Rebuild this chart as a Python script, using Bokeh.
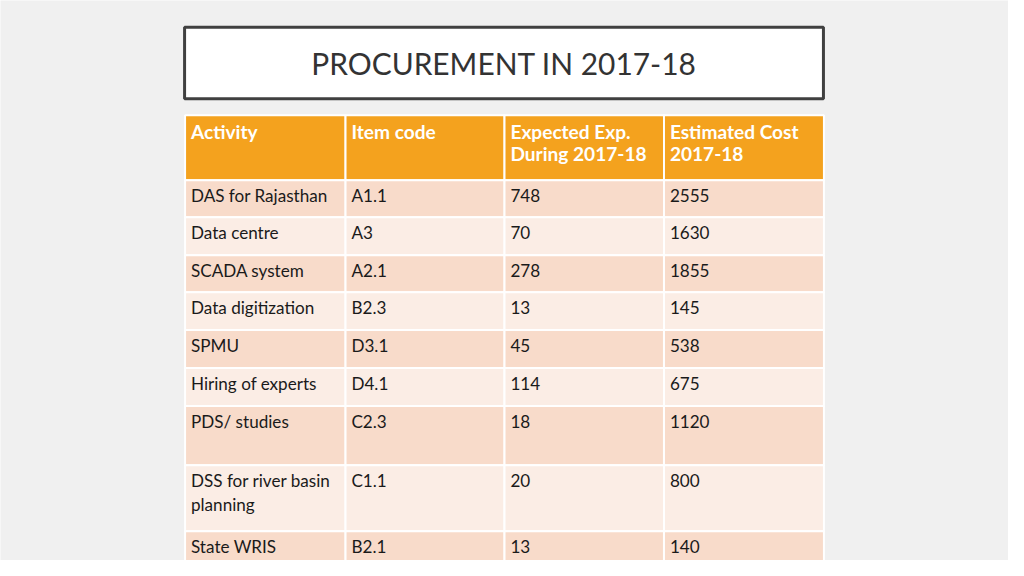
from bokeh.plotting import figure
from bokeh.models import Range1d, ColumnDataSource
from bokeh.core.properties import value
from bokeh.embed import file_html
from bokeh.resources import INLINE

# ---- data ----
title = "PROCUREMENT IN 2017-18"
headers = ["Activity", "Item code", "Expected Exp.\nDuring 2017-18", "Estimated Cost\n2017-18"]
activities = ["DAS for Rajasthan", "Data centre", "SCADA system", "Data digitization", "SPMU",
              "Hiring of experts", "PDS/ studies", "DSS for river basin\nplanning", "State WRIS"]
item_codes = ["A1.1", "A3", "A2.1", "B2.3", "D3.1", "D4.1", "C2.3", "C1.1", "B2.1"]
expected_exp = [748, 70, 278, 13, 45, 114, 18, 20, 13]
estimated_cost = [2555, 1630, 1855, 145, 538, 675, 1120, 800, 140]

# ---- layout (reference pixel space 1024 x 576) ----
W, H = 1008, 560
S = 0.98  # font scale from reference px to figure px
col_edges = [187.5, 350.5, 512, 674, 836.5]
header_top, header_bot = 118, 185
row_bounds = [(185, 223), (223, 262), (262, 300), (300, 339), (339, 378),
              (378, 417), (417, 478), (478, 546), (546, 620)]
HEAD_LH = 22   # header line spacing (px)
BODY_LH = 24   # body line spacing (px)
LH_CORR = 1.2  # renderer's line-height factor

BG = "#f0f0f0"
ORANGE = "#f4a21e"
DARK = "#f8dbca"
LIGHT = "#fbede5"
TXT = "#1a1a1a"
FONT = "Lato"

def fpx(v):
    return "%.1fpx" % (v * S)

p = figure(width=W, height=H, output_backend="svg", toolbar_location=None,
           x_range=Range1d(0, 1024), y_range=Range1d(576, 0),
           min_border=0, background_fill_color=BG, border_fill_color=BG)
p.axis.visible = False
p.grid.visible = False
p.outline_line_color = None

# title box
p.quad(left=[187], right=[836], top=[27.5], bottom=[101], fill_color="white",
       line_color="#404040", line_width=3)
p.text(x=[511.5], y=[64], text=[title], text_align="center", text_baseline="middle",
       text_font=value(FONT), text_font_size=fpx(30.5), text_color="#333333")

# header cells
hl, hr = col_edges[:-1], col_edges[1:]
p.quad(left=hl, right=hr, top=[header_top] * 4, bottom=[header_bot] * 4,
       fill_color=ORANGE, line_color="white", line_width=2)
hy = [135 + (h.count("\n")) * HEAD_LH / 2 for h in headers]
p.text(x=[l + 6 for l in hl], y=hy, text=headers,
       text_align="left", text_baseline="middle", text_font=value(FONT),
       text_font_style="bold", text_font_size=fpx(19.5), text_color="white",
       text_line_height=HEAD_LH / 19.5 / LH_CORR)

# body rows
lefts, rights, tops, bots, fills = [], [], [], [], []
for i, (t, b) in enumerate(row_bounds):
    for c in range(4):
        lefts.append(col_edges[c]); rights.append(col_edges[c + 1])
        tops.append(t); bots.append(b)
        fills.append(DARK if i % 2 == 0 else LIGHT)
p.quad(left=lefts, right=rights, top=tops, bottom=bots, fill_color=fills,
       line_color="white", line_width=2)

cols = [activities, item_codes, [str(v) for v in expected_exp], [str(v) for v in estimated_cost]]
for c in range(4):
    xs, ys, texts = [], [], []
    for i, (t, b) in enumerate(row_bounds):
        txt = cols[c][i]
        xs.append(col_edges[c] + 6)
        ys.append(t + 16 + txt.count("\n") * BODY_LH / 2)
        texts.append(txt)
    src = ColumnDataSource(dict(x=xs, y=ys, t=texts))
    p.text(x="x", y="y", text="t", source=src, text_align="left", text_baseline="middle",
           text_font=value(FONT), text_font_size=fpx(17.5), text_color=TXT,
           text_line_height=BODY_LH / 17.5 / LH_CORR)

open("out.html", "w").write(file_html(p, INLINE))
